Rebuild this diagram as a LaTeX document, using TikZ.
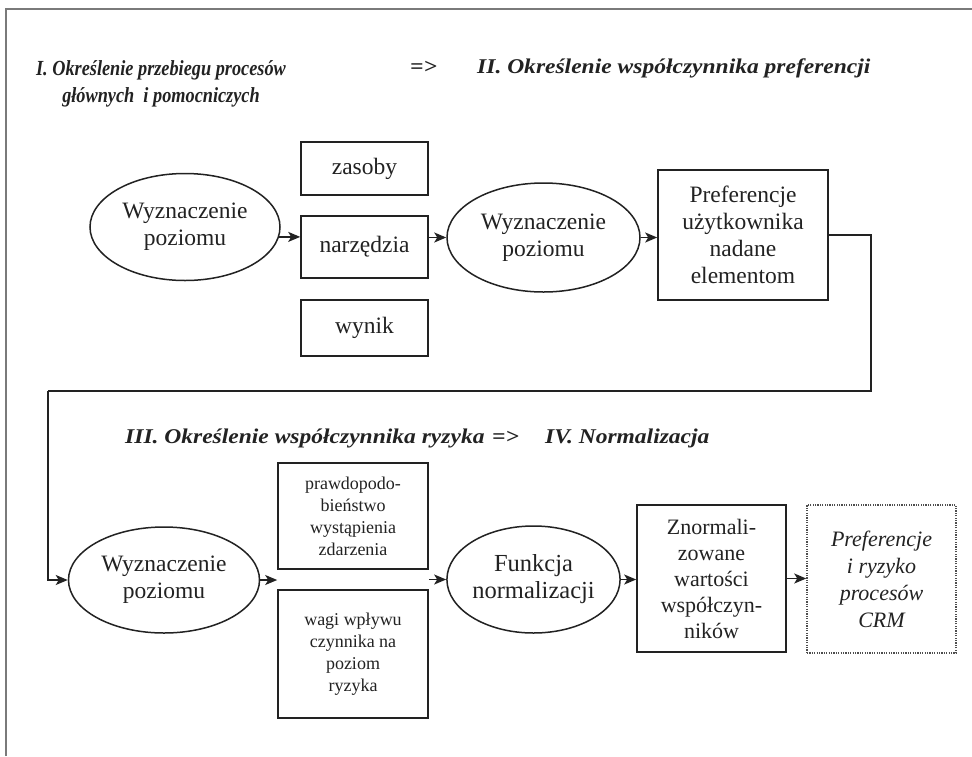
\documentclass[tikz,border=0pt]{standalone}
\usepackage{fontspec}
\setmainfont{Liberation Serif}
\newfontfamily\ttlfont[FakeStretch=0.85]{Liberation Serif}
\newfontfamily\ttlwidefont[FakeStretch=1.12]{Liberation Serif}
\usetikzlibrary{shapes.geometric,arrows.meta,calc}
\definecolor{ink}{HTML}{222222}
\definecolor{framegray}{HTML}{7A7A7A}
\tikzset{
  el/.style={ellipse,draw=ink,line width=1.5pt,inner sep=0pt,align=center,text=ink},
  bx/.style={rectangle,draw=ink,line width=1.6pt,inner sep=0pt,align=center,text=ink},
  dotbox/.style={rectangle,draw=ink!80,line width=1.5pt,dash pattern=on 1.2pt off 1.2pt,inner sep=0pt,align=center,text=ink},
  ttl/.style={text=ink,inner sep=0pt,font=\ttlfont\bfseries\itshape\fontsize{21.5}{27}\selectfont},
  ttlw/.style={text=ink,inner sep=0pt,font=\ttlwidefont\bfseries\itshape\fontsize{21}{27}\selectfont},
  conn/.style={draw=ink,line width=1.5pt,-{Stealth[length=12pt,width=10pt,inset=3pt]}},
  plain/.style={draw=ink,line width=1.5pt},
  fa/.style={font=\fontsize{23.5}{27}\selectfont},
  fb/.style={font=\fontsize{18}{22}\selectfont},
  fc/.style={font=\fontsize{22}{26}\selectfont},
  fd/.style={font=\itshape\fontsize{22}{27}\selectfont},
  fe/.style={font=\fontsize{24.5}{27}\selectfont},
}
\begin{document}
\begin{tikzpicture}[x=1pt,y=-1pt]
\useasboundingbox (0,0) rectangle (972,756);
\fill[white] (0,0) rectangle (972,756);
\draw[framegray,line width=2pt] (6,756) -- (6,8.5) -- (972,8.5);

% titles
\node[ttl,align=center] (t1) at (161,84) {I. Określenie przebiegu procesów\\głównych\ \ i pomocniczych};
\node[ttlw,anchor=base west] (ar1) at (410,73) {=>};
\node[ttlw,anchor=base west] (t2) at (477,73) {II. Określenie współczynnika preferencji};
\node[ttlw,anchor=base west] (t3) at (125,443) {III. Określenie współczynnika ryzyka};
\node[ttlw,anchor=base west] (ar2) at (492,443) {=>};
\node[ttlw,anchor=base west] (t4) at (545,443) {IV. Normalizacja};

% row 1
\node[el,fa,minimum width=190,minimum height=107] (e1) at (185,227) {Wyznaczenie\\poziomu};
\node[bx,fa,minimum width=127,minimum height=53] (zas) at (364.5,168.5) {zasoby};
\node[bx,fa,minimum width=127,minimum height=62] (narz) at (364.5,247) {narzędzia};
\node[bx,fa,minimum width=127,minimum height=56] (wyn) at (364.5,328) {wynik};
\node[el,fa,minimum width=193,minimum height=109] (e2) at (543.5,237.5) {Wyznaczenie\\poziomu};
\node[bx,fa,minimum width=170,minimum height=130] (pref) at (743,235) {Preferencje\\użytkownika\\nadane\\elementom};

\draw[conn] (e1.-6.7) -- (e1.-6.7 -| narz.west);
\draw[conn] (narz.east |- e2.west) -- (e2.west);
\draw[conn] (e2.east) -- (e2.east -| pref.west);

% row 2
\node[el,fa,minimum width=191,minimum height=106] (e3) at (164,580) {Wyznaczenie\\poziomu};
\node[bx,fb,minimum width=150,minimum height=106] (prob) at (353,516) {prawdopodo-\\bieństwo\\wystąpienia\\zdarzenia};
\node[bx,fb,minimum width=150,minimum height=128] (wagi) at (353,654) {wagi wpływu\\czynnika na\\poziom\\ryzyka};
\node[el,fe,minimum width=167,minimum height=107] (e4) at (533.5,579.5) {Funkcja\\normalizacji};
\node[bx,fc,minimum width=149,minimum height=147] (zn) at (711.5,578.5) {Znormali-\\zowane\\wartości\\współczyn-\\ników};
\node[dotbox,fd,minimum width=149,minimum height=148] (crm) at (881.5,579) {Preferencje\\i ryzyko\\procesów\\CRM};

\coordinate (c1) at (871,391);
\coordinate (c2) at (48,391);
\draw[plain] (pref.east) -| (c1) -- (c2);
\draw[conn] (c2) |- (e3.west);

\draw[conn] (e3.east) -- (e3.east -| prob.west);
\draw[conn] (e4.west -| prob.east) -- (e4.west);
\draw[conn] (e4.east) -- (e4.east -| zn.west);
\draw[conn] (zn.east) -- (zn.east -| crm.west);
\end{tikzpicture}
\end{document}
